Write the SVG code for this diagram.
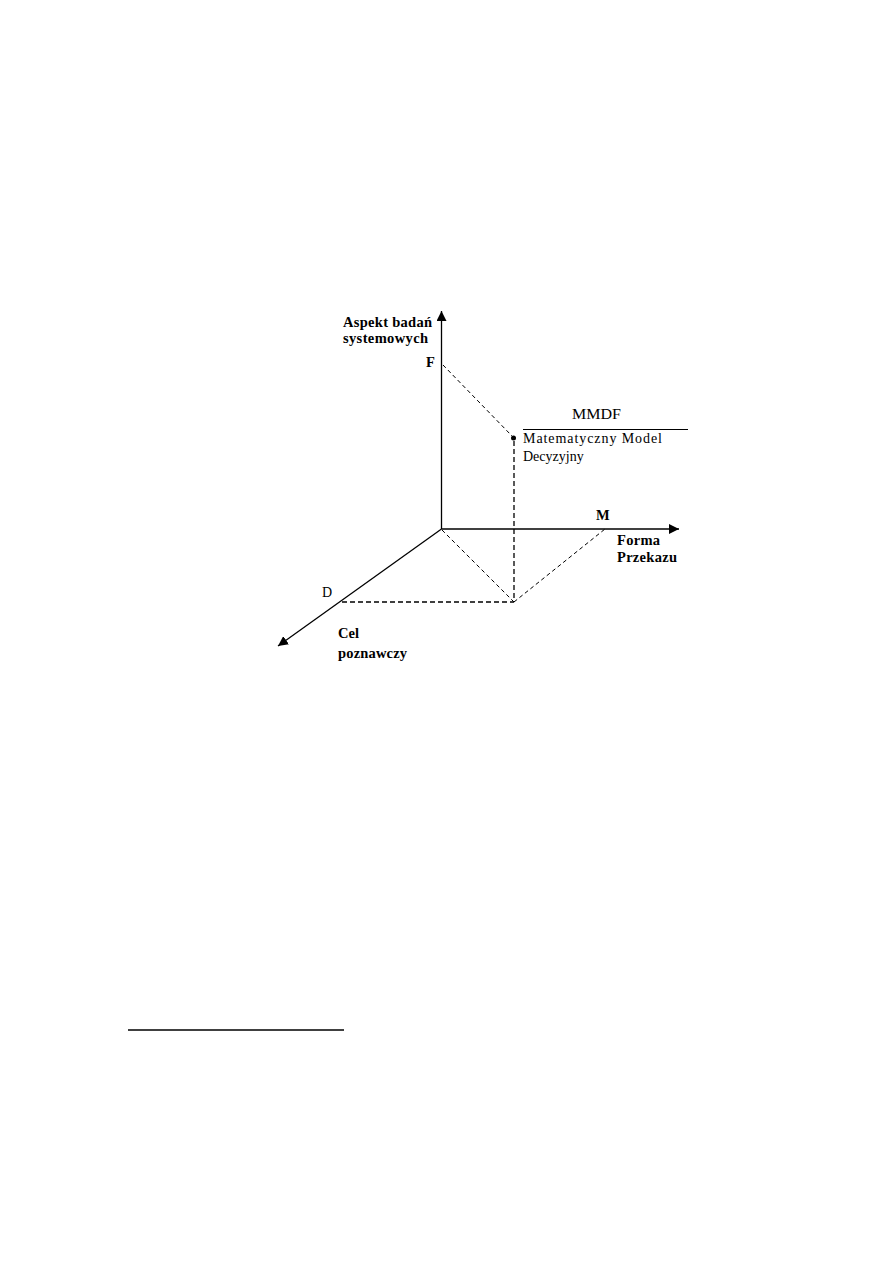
<svg xmlns="http://www.w3.org/2000/svg" width="893" height="1263" viewBox="0 0 893 1263">
<style>
.ax{stroke:#000;stroke-width:1.3;fill:none}
.da{stroke:#000;stroke-width:1;stroke-dasharray:4,3;fill:none}
.db{stroke:#000;stroke-width:1.3;stroke-dasharray:5,3;fill:none}
.lb{font-family:"Liberation Serif",serif;font-weight:bold;font-size:14.5px;fill:#000}
.tx{font-family:"Liberation Serif",serif;font-size:14px;fill:#000}
</style>
<defs>
<marker id="ah" viewBox="0 0 10 10" refX="10" refY="5" markerWidth="10" markerHeight="10" markerUnits="userSpaceOnUse" orient="auto">
<path d="M0,0 L10,5 L0,10 z" fill="#000"/>
</marker>
</defs>
<rect width="893" height="1263" fill="#fff"/>
<g id="connectors">
<line class="ax" x1="441.5" y1="529" x2="441.5" y2="311" marker-end="url(#ah)"/>
<line class="ax" x1="441.5" y1="529" x2="679" y2="529" marker-end="url(#ah)"/>
<line class="ax" x1="441.5" y1="529" x2="278" y2="646" marker-end="url(#ah)"/>
<line class="da" x1="443" y1="365" x2="512" y2="436"/>
<line class="db" x1="514" y1="441" x2="514" y2="602"/>
<line class="db" x1="342" y1="602" x2="514" y2="602"/>
<line class="da" x1="442" y1="530" x2="514" y2="602"/>
<line class="da" x1="514" y1="602" x2="605" y2="529"/>
<line stroke="#000" stroke-width="1" x1="523" y1="429.5" x2="688" y2="429.5"/>
<line stroke="#000" stroke-width="1.3" x1="128" y1="1030" x2="344" y2="1030"/>
</g>
<g id="axis-vertical"><text class="lb" x="343" y="327" textLength="89" lengthAdjust="spacing">Aspekt badań</text><text class="lb" x="343" y="343" textLength="85" lengthAdjust="spacing">systemowych</text></g>
<g id="point-F"><text class="lb" x="426" y="367">F</text></g>
<g id="mmdf">
<circle cx="513.5" cy="438" r="2.5" fill="#000"/>
<text class="tx" x="572" y="419" font-size="15.5" textLength="49" lengthAdjust="spacingAndGlyphs">MMDF</text>
<text class="tx" x="523" y="443" textLength="139" lengthAdjust="spacing">Matematyczny Model</text>
<text class="tx" x="523" y="461" font-size="14.5">Decyzyjny</text>
</g>
<g id="point-M"><text class="lb" x="596" y="520">M</text></g>
<g id="axis-horizontal"><text class="lb" x="617" y="545" textLength="43" lengthAdjust="spacing">Forma</text><text class="lb" x="617" y="562" textLength="60" lengthAdjust="spacing">Przekazu</text></g>
<g id="point-D"><text class="tx" x="322" y="597">D</text></g>
<g id="axis-diagonal"><text class="lb" x="338" y="638">Cel</text><text class="lb" x="338" y="658" textLength="69" lengthAdjust="spacing">poznawczy</text></g>
</svg>
